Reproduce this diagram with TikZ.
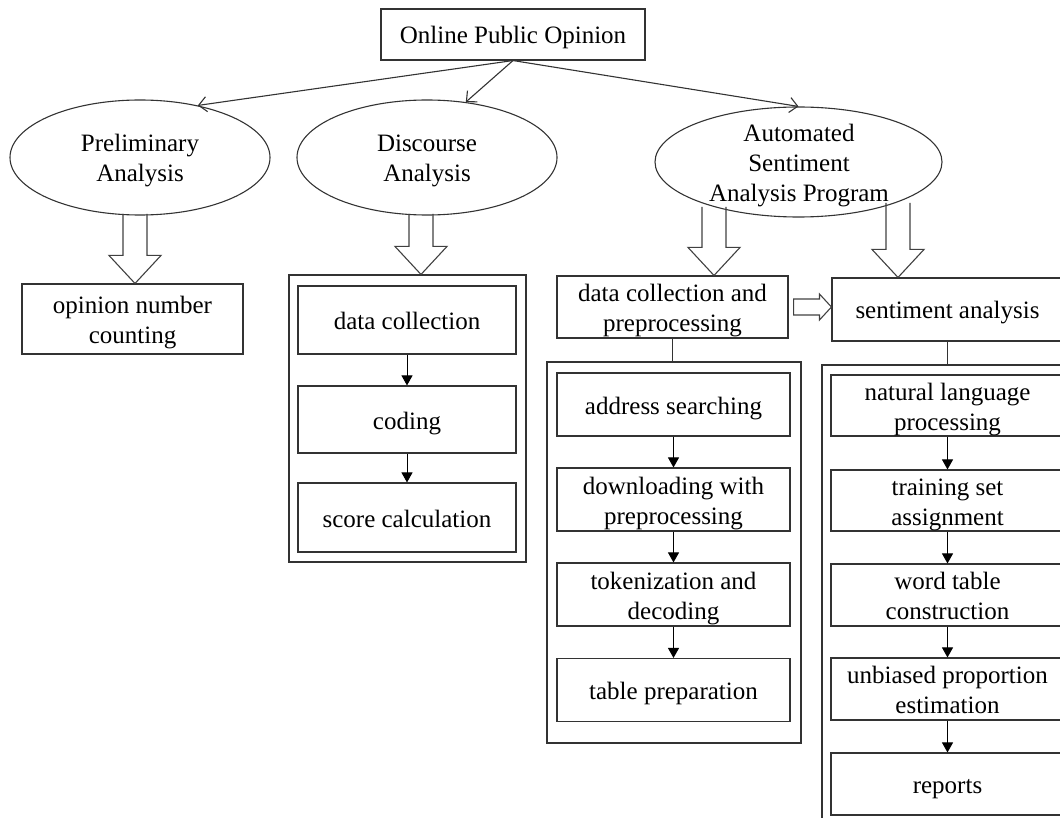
\documentclass[tikz,border=0pt]{standalone}
\usepackage{fontspec}
\setmainfont{Liberation Serif}
\usetikzlibrary{shapes.geometric,arrows.meta,calc}

\tikzset{
  txt/.style={text width=210pt, align=flush center, inner sep=0pt,
    execute at begin node={\rule{0pt}{25pt}}, execute at end node={\rule[-6pt]{0pt}{6pt}}},
  box/.style={txt, draw=black!80, line width=1.1pt, minimum width=231pt, minimum height=63pt, inner xsep=2pt},
  oval/.style={draw=black!80, line width=1.1pt, ellipse, minimum width=260pt, minimum height=115pt, inner sep=0pt},
  frame/.style={draw=black!80, line width=1.1pt, inner sep=0pt},
  hollow/.style={draw=black!75, line width=1.1pt, line join=miter},
  flow/.style={draw=black, line width=1pt, -{Triangle[length=10pt,width=11pt]}},
  branch/.style={draw=black!80, line width=1.1pt, -{Straight Barb[length=8pt,width=15pt]}},
}
\newcommand{\hollowdown}[2]{%
  \draw[hollow] ($(#1)+(-12,0)$) -- ($(#1 |- #2.north)+(-12,-28)$) -- ++(-14,0)
    -- (#1 |- #2.north) -- ++(26,-28) -- ++(-14,0) -- ($(#1)+(12,0)$);}
\newcommand{\hollowright}[2]{%
  \draw[hollow] ($(#1.east)+(5,-8)$) -- ($(#2.west |- #1.east)+(-12,-8)$) -- ++(0,-5)
    -- (#2.west |- #1.east) -- ++(-12,13) -- ++(0,-5) -- ($(#1.east)+(5,8)$) -- cycle;}

\begin{document}
\begin{tikzpicture}[x=1pt, y=-1pt, font=\fontsize{25}{30}\selectfont]
	\path[use as bounding box, clip] (0,0) rectangle (1060,818);
	
	\node[box, text width=250pt, minimum width=264pt, minimum height=51pt] (opo) at (513,34.5) {Online Public Opinion};
	
	\node[oval] (pre) at (140,157.5) {};
	\node[txt] (pre-t) at (140,157.5) {Preliminary\\Analysis};
	\node[oval] (dis) at (427,157.5) {};
	\node[txt] (dis-t) at (427,157.5) {Discourse\\Analysis};
	\node[oval, minimum width=287pt, minimum height=110pt] (asa) at (798.5,162) {};
	\node[txt] (asa-t) at (799,162) {Automated\\Sentiment\\Analysis Program};
	
	\draw[branch] (opo.south) -- (pre.42);
	\draw[branch] (opo.south) -- (dis.55);
	\draw[branch] (opo.south) -- (asa.north);
	
	\node[box, minimum width=221pt, minimum height=70pt] (onc) at (132.5,319) {opinion number\\counting};
	
	\node[frame, minimum width=237pt, minimum height=287pt] (f1) at (407.5,418.5) {};
	\node[box, minimum width=218pt, minimum height=68pt] (dc) at (407,320) {data collection};
	\node[box, minimum width=218pt, minimum height=67pt] (cod) at (407,419.5) {coding};
	\node[box, minimum width=218pt, minimum height=69pt] (sc) at (407,517.5) {score calculation};
	\draw[flow] (dc.south) -- (cod.north);
	\draw[flow] (cod.south) -- (sc.north);
	
	\node[box, minimum height=62pt] (dcp) at (672.5,307) {data collection and\\preprocessing};
	\node[frame, minimum width=254pt, minimum height=381pt] (f2) at (674,552.5) {};
	\node[box, minimum width=233pt] (as) at (673.5,404.5) {address searching};
	\node[box, minimum width=233pt] (dwp) at (673.5,499.5) {downloading with\\preprocessing};
	\node[box, minimum width=233pt] (tad) at (673.5,594.5) {tokenization and\\decoding};
	\node[box, minimum width=233pt] (tp) at (673.5,690) {table preparation};
	\draw[frame] (dcp.south) -- (dcp.south |- f2.north);
	\draw[flow] (as.south) -- (dwp.north);
	\draw[flow] (dwp.south) -- (tad.north);
	\draw[flow] (tad.south) -- (tp.north);
	
	\node[box] (sa) at (947.5,309.5) {sentiment analysis};
	\node[frame, minimum width=254pt, minimum height=475pt] (f3) at (949,602.5) {};
	\node[box, minimum width=233pt, minimum height=61pt] (nlp) at (947.5,405.5) {natural language\\processing};
	\node[box, minimum width=233pt, minimum height=61pt] (tsa) at (947.5,500.5) {training set\\assignment};
	\node[box, minimum width=233pt, minimum height=62pt] (wtc) at (947.5,595) {word table\\construction};
	\node[box, minimum width=233pt, minimum height=62pt] (upe) at (947.5,689) {unbiased proportion\\estimation};
	\node[box, minimum width=233pt, minimum height=62pt] (rep) at (947.5,784) {reports};
	\draw[frame] (sa.south) -- (sa.south |- f3.north);
	\draw[flow] (nlp.south) -- (tsa.north);
	\draw[flow] (tsa.south) -- (wtc.north);
	\draw[flow] (wtc.south) -- (upe.north);
	\draw[flow] (upe.south) -- (rep.north);
	
	\coordinate (pre-o) at (135,214);
	\coordinate (dis-o) at (421,214);
	\coordinate (asa-l) at (714,207);
	\coordinate (asa-r) at (898,203);
	\hollowdown{pre-o}{onc}
	\hollowdown{dis-o}{f1}
	\hollowdown{asa-l}{dcp}
	\hollowdown{asa-r}{sa}
	\hollowright{dcp}{sa}
	
\end{tikzpicture}
\end{document}
